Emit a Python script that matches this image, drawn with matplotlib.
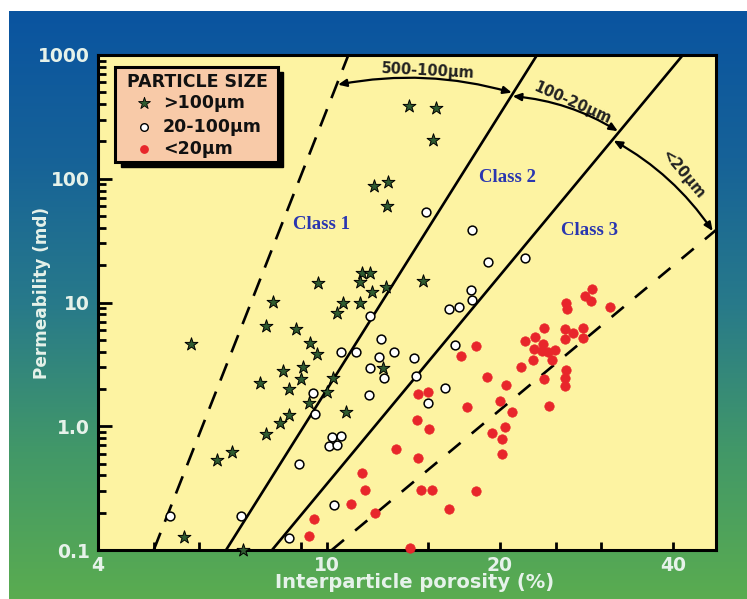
#!/usr/bin/env python3

import numpy as np
import matplotlib
matplotlib.use('Agg')
import matplotlib.pyplot as plt
from matplotlib.patches import Rectangle, FancyArrowPatch
from matplotlib.ticker import FixedLocator, FixedFormatter, NullFormatter, LogLocator


# interparticle porosity (%) and permeability (md), by particle size
coarse_phi = [13.9, 15.5, 15.3, 12.1, 12.75, 12.7, 11.5, 11.9, 11.4, 12.0,
              12.65, 14.7, 9.65, 8.05, 10.65, 11.4, 10.4, 7.85, 8.85, 9.35,
              5.8, 9.6, 9.1, 8.4, 9.0, 7.65, 8.6, 10.25, 10.0, 9.3,
              10.8, 8.6, 8.3, 7.85, 6.85, 6.45, 5.65, 7.15, 12.5]
coarse_k = [390, 370, 205, 87, 95, 60, 17.3, 17.3, 14.7, 12.2,
            13.4, 15, 14.4, 10.1, 10, 10, 8.2, 6.5, 6.1, 4.7,
            4.6, 3.85, 3.0, 2.8, 2.4, 2.25, 2.0, 2.45, 1.9, 1.55,
            1.3, 1.23, 1.06, 0.86, 0.62, 0.53, 0.127, 0.1, 2.95]

medium_phi = [14.9, 17.9, 19.1, 22.1, 17.8, 17.9, 17.0, 16.3, 11.9, 12.4,
              10.6, 11.25, 13.1, 12.3, 14.2, 11.9, 12.55, 14.3, 11.85, 16.05,
              15.0, 16.7, 9.45, 9.55, 10.2, 10.6, 10.1, 10.4, 8.95, 10.3,
              7.1, 5.33, 8.6]
medium_k = [54, 38.5, 21.2, 23, 12.7, 10.4, 9.2, 8.8, 7.8, 5.05,
            3.95, 3.95, 3.95, 3.6, 3.55, 2.95, 2.45, 2.55, 1.8, 2.05,
            1.55, 4.5, 1.85, 1.25, 0.82, 0.83, 0.69, 0.70, 0.5, 0.23,
            0.19, 0.19, 0.125]

fine_phi = [9.5, 9.3, 11.0, 12.15, 11.65, 11.5, 13.2, 14.4, 14.35, 15.05,
            14.55, 15.25, 16.3, 18.2, 13.95, 17.55, 19.4, 20.2, 18.2, 17.1,
            19.0, 20.5, 14.4, 15.0, 20.0, 21.0, 20.4, 20.2, 24.3, 23.9,
            26.1, 26.0, 25.9, 21.75, 22.8, 22.9, 23.7, 23.8, 24.2, 24.6,
            24.95, 22.1, 23.0, 23.9, 26.0, 25.9, 26.8, 27.9, 27.9, 26.1,
            26.2, 28.1, 28.8, 28.9, 31.1]
fine_k = [0.178, 0.13, 0.235, 0.2, 0.305, 0.42, 0.65, 0.555, 1.12, 0.95,
          0.305, 0.305, 0.215, 0.3, 0.104, 1.43, 0.88, 0.6, 4.45, 3.7,
          2.5, 2.15, 1.82, 1.9, 1.6, 1.3, 0.98, 0.79, 1.46, 2.4,
          2.85, 2.45, 2.1, 3.0, 3.4, 4.2, 4.05, 4.6, 3.95, 3.4,
          4.1, 4.85, 5.3, 6.2, 6.1, 5.05, 5.65, 6.2, 5.15, 10,
          8.8, 11.2, 10.2, 12.9, 9.2]

# class boundaries, (porosity, permeability) at each end
bound_1 = ([5.0, 10.9], [0.1, 1000])
bound_2 = ([6.68, 23.2], [0.1, 1000])
bound_3 = ([8.03, 41.6], [0.1, 1000])
bound_4 = ([10.2, 47.5], [0.1, 38.5])

# particle size ranges between boundaries: (from, k), (to, k), label
size_arcs = [(bound_1, 573, bound_2, 493, '500-100\u03bcm'),
             (bound_2, 466, bound_3, 239, '100-20\u03bcm'),
             (bound_3, 206, bound_4, 37, '<20\u03bcm')]

x_ticks = [4, 10, 20, 40]
x_minor = [5, 6, 9, 15, 25, 30]
y_ticks = [0.1, 1, 10, 100, 1000]
y_labels = ['0.1', '1.0', '10', '100', '1000']

W, H = 747, 599
LABEL_C = '#e6f2ea'
STAR_C = '#2f5b30'
RED_C = '#e8262b'
TEXT_BLUE = '#2a36b0'


def x_on(bound, k):
    (x0, x1), (y0, y1) = bound
    t = np.log10(k / y0) / np.log10(y1 / y0)
    return 10 ** (np.log10(x0) + t * np.log10(x1 / x0))


fig = plt.figure(figsize=(W / 100, H / 100), dpi=100)
fig.patch.set_facecolor('white')

# blue to green backdrop
bg = fig.add_axes([9 / W, 0, 1 - 9 / W, (H - 11) / H], zorder=0)
stops = np.array([[10, 84, 160], [22, 98, 152], [40, 122, 138],
                  [66, 152, 104], [90, 172, 80]]) / 255.0
pos = np.linspace(0, 1, len(stops))
t = np.linspace(0, 1, 300)
grad = np.stack([np.interp(t, pos, stops[:, c]) for c in range(3)], axis=-1)
bg.imshow(grad[:, None, :], aspect='auto', extent=(0, 1, 0, 1))
bg.set_axis_off()

ax = fig.add_axes([98 / W, (H - 550) / H, 618 / W, 495 / H], zorder=1)
ax.set_facecolor('#fdf3a2')
ax.set_xscale('log')
ax.set_yscale('log')

# class boundaries
ax.plot(*bound_1, color='k', lw=1.9, ls=(0, (7, 4.5)))
ax.plot(*bound_2, color='k', lw=1.9)
ax.plot(*bound_3, color='k', lw=1.9)
ax.plot(*bound_4, color='k', lw=1.9, ls=(0, (6, 5.5)))

ax.scatter(coarse_phi, coarse_k, marker='*', s=95, c=STAR_C,
           edgecolors='k', linewidths=0.7, zorder=3, clip_on=False)
ax.scatter(medium_phi, medium_k, marker='o', s=40, c='white',
           edgecolors='k', linewidths=1.1, zorder=3, clip_on=False)
ax.scatter(fine_phi, fine_k, marker='o', s=46, c=RED_C,
           edgecolors=RED_C, linewidths=0.5, zorder=3, clip_on=False)

for ba, ka, bb, kb, lab in size_arcs:
    arr = FancyArrowPatch((x_on(ba, ka), ka), (x_on(bb, kb), kb),
                          connectionstyle='arc3,rad=-0.12',
                          arrowstyle='<|-|>,head_length=5,head_width=2.2',
                          lw=1.6, color='k', shrinkA=1, shrinkB=1, zorder=4)
    ax.add_patch(arr)

ax.text(0.534, 0.968, size_arcs[0][4], transform=ax.transAxes, fontsize=10.5,
        fontweight='bold', ha='center', va='center', rotation=-3, color='#222')
ax.text(0.768, 0.903, size_arcs[1][4], transform=ax.transAxes, fontsize=10.5,
        fontweight='bold', ha='center', va='center', rotation=-24, color='#222')
ax.text(0.946, 0.758, size_arcs[2][4], transform=ax.transAxes, fontsize=10.5,
        fontweight='bold', ha='center', va='center', rotation=-50, color='#222')

for xx, yy, s in [(0.362, 0.657, 'Class 1'), (0.663, 0.752, 'Class 2'),
                  (0.796, 0.646, 'Class 3')]:
    ax.text(xx, yy, s, transform=ax.transAxes, fontsize=13.5,
            family='Liberation Serif', fontweight='bold', color=TEXT_BLUE,
            ha='center', va='center')

# particle size key
kx0, ky0, kw, kh = 0.0275, 0.784, 0.2636, 0.192
ax.add_patch(Rectangle((kx0 + 0.009, ky0 - 0.011), kw, kh, transform=ax.transAxes,
                       facecolor='k', edgecolor='k', zorder=5))
ax.add_patch(Rectangle((kx0, ky0), kw, kh, transform=ax.transAxes,
                       facecolor='#f8caa8', edgecolor='k', lw=2.2, zorder=6))
ax.text(0.161, 0.945, 'PARTICLE SIZE', transform=ax.transAxes, fontsize=12.5,
        fontweight='bold', ha='center', va='center', color='#111', zorder=7)
ax.scatter([0.0744], [0.903], transform=ax.transAxes, marker='*', s=80,
           c=STAR_C, edgecolors='k', linewidths=0.6, zorder=7)
ax.scatter([0.0744], [0.855], transform=ax.transAxes, marker='o', s=30,
           c='white', edgecolors='k', linewidths=1.0, zorder=7)
ax.scatter([0.0744], [0.810], transform=ax.transAxes, marker='o', s=28,
           c=RED_C, edgecolors=RED_C, zorder=7)
for yy, s in [(0.903, '>100\u03bcm'), (0.855, '20-100\u03bcm'), (0.810, '<20\u03bcm')]:
    ax.text(0.105, yy, s, transform=ax.transAxes, fontsize=12.5,
            fontweight='bold', ha='left', va='center', color='#111', zorder=7)

ax.set_xlim(4, 47.5)
ax.set_ylim(0.1, 1000)

ax.xaxis.set_major_locator(FixedLocator(x_ticks))
ax.xaxis.set_major_formatter(FixedFormatter([str(v) for v in x_ticks]))
ax.xaxis.set_minor_locator(FixedLocator(x_minor))
ax.xaxis.set_minor_formatter(NullFormatter())
ax.yaxis.set_major_locator(FixedLocator(y_ticks))
ax.yaxis.set_major_formatter(FixedFormatter(y_labels))
ax.yaxis.set_minor_locator(LogLocator(base=10, subs=np.arange(2, 10)))
ax.yaxis.set_minor_formatter(NullFormatter())

ax.tick_params(which='both', direction='in', top=False, right=False,
               width=2, color='k', labelcolor=LABEL_C, labelsize=13.5)
ax.tick_params(axis='y', which='major', length=10, pad=6)
ax.tick_params(axis='y', which='minor', length=6)
ax.tick_params(axis='x', which='both', length=6, pad=4)
for lab in ax.get_xticklabels() + ax.get_yticklabels():
    lab.set_fontweight('bold')
for sp in ax.spines.values():
    sp.set_linewidth(2.2)

fig.text(415 / W, 1 - 583 / H, 'Interparticle porosity (%)', color=LABEL_C,
         fontsize=14, fontweight='bold', ha='center', va='center')
fig.text(42 / W, 1 - 293 / H, 'Permeability (md)', color=LABEL_C,
         fontsize=12.2, fontweight='bold', ha='center', va='center', rotation=90)

fig.savefig('out.png', dpi=100)
